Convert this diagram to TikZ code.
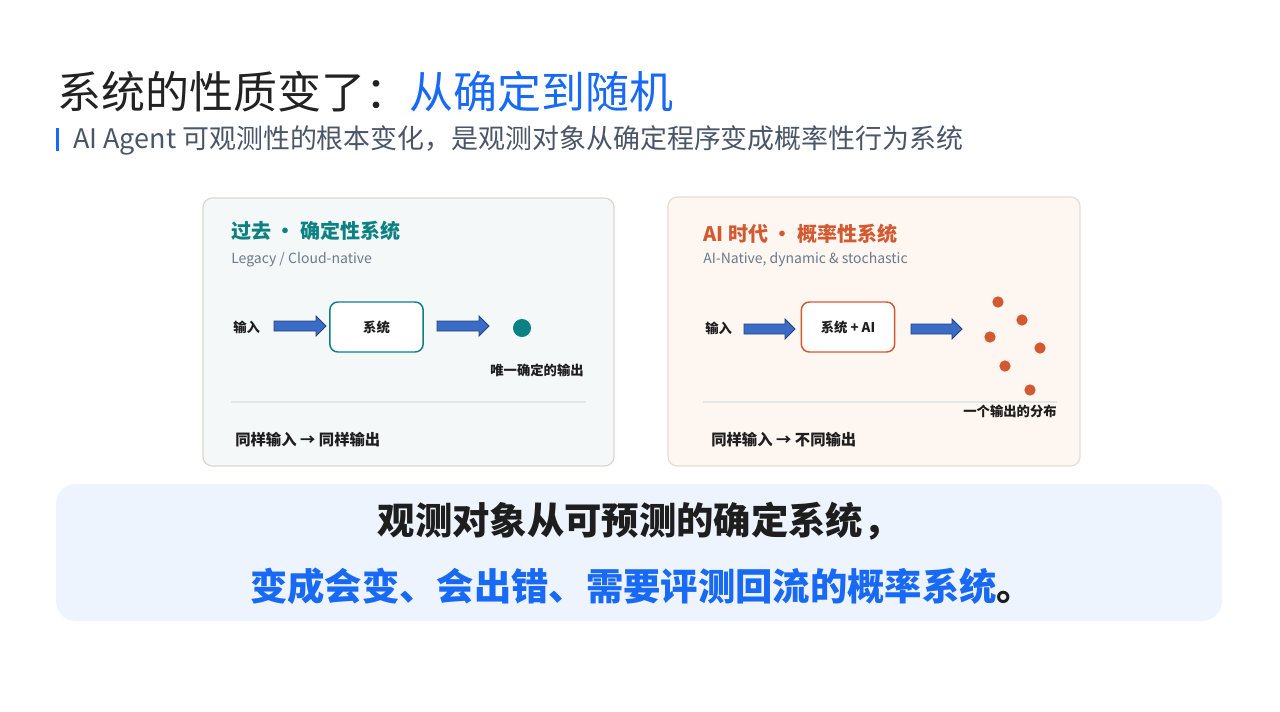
\documentclass[tikz,border=0pt]{standalone}
\usepackage{fontspec}
\setmainfont{Noto Sans CJK SC}
\usetikzlibrary{calc}
\definecolor{titleblue}{HTML}{1769F6}
\definecolor{titleblack}{HTML}{222222}
\definecolor{subgray}{HTML}{4A5568}
\definecolor{teal}{HTML}{0B8184}
\definecolor{orange}{HTML}{D35A30}
\definecolor{cardAfill}{HTML}{F5F8F9}
\definecolor{cardAline}{HTML}{DCD8CE}
\definecolor{cardBfill}{HTML}{FDF6F1}
\definecolor{cardBline}{HTML}{E6DDD5}
\definecolor{enggray}{HTML}{6B7A8C}
\definecolor{arrowfill}{HTML}{3A6CC6}
\definecolor{arrowline}{HTML}{24437A}
\definecolor{sepgray}{HTML}{E4E6E8}
\definecolor{panelfill}{HTML}{EEF4FD}
\definecolor{textdark}{HTML}{1E1E1E}
\newcommand{\blockarrow}[2]{%
  \path let \p1=(#1), \p2=(#2) in
  [fill=arrowfill, draw=arrowline, line width=0.6pt]
  (\x1,\y1+5*0.75pt) -- (\x2-10*0.75pt,\y1+5*0.75pt) -- (\x2-10*0.75pt,\y1+10*0.75pt)
  -- (\x2,\y1) -- (\x2-10*0.75pt,\y1-10*0.75pt) -- (\x2-10*0.75pt,\y1-5*0.75pt)
  -- (\x1,\y1-5*0.75pt) -- cycle;}
\begin{document}
\begin{tikzpicture}[x=0.75pt,y=-0.75pt,
  lefttext/.style={anchor=west,inner sep=0pt},
  card/.style={rounded corners=7pt,line width=0.9pt},
  sysbox/.style={draw,fill=white,rounded corners=6pt,line width=1.1pt,minimum width=70pt,minimum height=37.5pt,inner sep=0pt,font=\fontsize{10}{12}\selectfont\bfseries,text=textdark},
  small/.style={inner sep=0pt,font=\fontsize{10}{12}\selectfont\bfseries,text=textdark},
  dot/.style={circle,inner sep=0pt,minimum size=8.5pt,fill=orange},
]
\useasboundingbox[fill=white] (0,0) rectangle (1280,711);

% title
\node[lefttext,font=\fontsize{33}{39}\selectfont] (title) at (57,92)
  {\textcolor{titleblack}{系统的性质变了：}\textcolor{titleblue}{从确定到随机}};
\fill[titleblue] (56,128) rectangle (59,151);
\node[lefttext,font=\fontsize{20.2}{24}\selectfont,text=subgray] (subtitle) at (73,140)
  {AI Agent 可观测性的根本变化，是观测对象从确定程序变成概率性行为系统};

% left card
\draw[card,fill=cardAfill,draw=cardAline] (203,198) rectangle (614,466);
\node[lefttext,font=\fontsize{15}{18}\selectfont\bfseries,text=teal] (lt) at (231,231) {过去 · 确定性系统};
\node[lefttext,font=\fontsize{10.5}{13}\selectfont,text=enggray] (ls) at (231,260) {Legacy / Cloud-native};
\node[small,anchor=west] (lin) at (233,327) {输入};
\node[sysbox,draw=teal] (lsys) at (376.5,327) {系统};
\node[circle,fill=teal,inner sep=0pt,minimum size=13.5pt] (lout) at (522,328) {};
\node[small,anchor=east] (loutlab) at (584,370) {唯一确定的输出};
\coordinate (la1) at (274,326); \coordinate (la2) at (326,326);
\coordinate (la3) at (437,326); \coordinate (la4) at (489,326);
\blockarrow{la1}{la2}
\blockarrow{la3}{la4}
\draw[sepgray,line width=0.8pt] (231,402) -- (586,402);
\node[lefttext,font=\fontsize{11.5}{14}\selectfont\bfseries,text=textdark] (lfoot) at (235,440) {同样输入 → 同样输出};

% right card
\draw[card,fill=cardBfill,draw=cardBline] (668,197) rectangle (1080,466);
\node[lefttext,font=\fontsize{15}{18}\selectfont\bfseries,text=orange] (rt) at (703,234) {AI 时代 · 概率性系统};
\node[lefttext,font=\fontsize{10.5}{13}\selectfont,text=enggray] (rs) at (703,260) {AI-Native, dynamic \& stochastic};
\node[small,anchor=west] (rin) at (705,328) {输入};
\node[sysbox,draw=orange] (rsys) at (848,327) {系统 + AI};
\coordinate (ra1) at (744,329); \coordinate (ra2) at (795,329);
\coordinate (ra3) at (911,329); \coordinate (ra4) at (962,329);
\blockarrow{ra1}{ra2}
\blockarrow{ra3}{ra4}
\node[dot] (d1) at (998,302) {};
\node[dot] (d2) at (1022,320) {};
\node[dot] (d3) at (990,337) {};
\node[dot] (d4) at (1040,348) {};
\node[dot] (d5) at (1005,366) {};
\node[dot] (d6) at (1030,390) {};
\draw[sepgray,line width=0.8pt] (703,402) -- (1057,402);
\node[small,anchor=east] (routlab) at (1057,411) {一个输出的分布};
\node[lefttext,font=\fontsize{11.5}{14}\selectfont\bfseries,text=textdark] (rfoot) at (711,440) {同样输入 → 不同输出};

% bottom panel
\fill[panelfill,rounded corners=15pt] (56,484) rectangle (1222,621);
\node[inner sep=0pt,font=\fontsize{28}{32}\selectfont\bfseries,text=textdark] (b1) at (639,521) {观测对象从可预测的确定系统，};
\node[inner sep=0pt,font=\fontsize{28}{32}\selectfont\bfseries] (b2) at (642,586)
  {\textcolor{titleblue}{变成会变、会出错、需要评测回流的概率系统}\textcolor{textdark}{。}};
\end{tikzpicture}
\end{document}
